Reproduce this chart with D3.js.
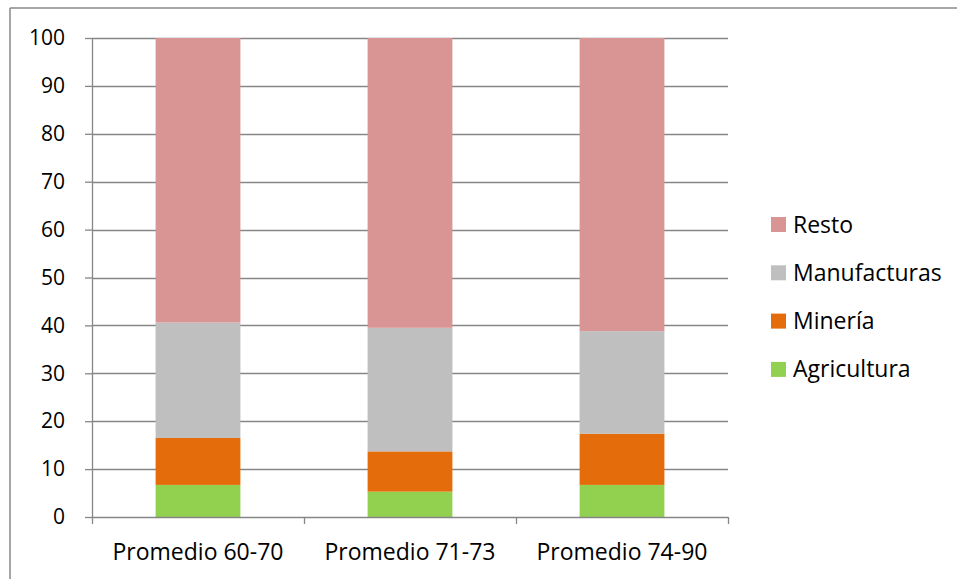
<!DOCTYPE html>
<html>
<head>
<meta charset="utf-8">
<script src="https://cdn.jsdelivr.net/npm/d3@7"></script>
<style>
  html, body { margin: 0; padding: 0; background: #fff; }
  svg { display: block; }
  text { font-family: "Open Sans", "Noto Sans", sans-serif; fill: #000; }
</style>
</head>
<body>
<svg id="chart" width="957" height="579"></svg>
<script>
// Periods shown on the x axis
const categories = ["Promedio 60-70", "Promedio 71-73", "Promedio 74-90"];
// Sector shares (%), stacked bottom to top
const agricultura  = [6.7, 5.3, 6.7];
const mineria      = [9.8, 8.4, 10.7];
const manufacturas = [24.1, 25.8, 21.4];
const resto        = [59.4, 60.5, 61.2];
const seriesNames  = ["Agricultura", "Minería", "Manufacturas", "Resto"];
const seriesColors = ["#92D050", "#E46C0A", "#BFBFBF", "#D99594"];
const yTicks = [0, 10, 20, 30, 40, 50, 60, 70, 80, 90, 100];

const rows = categories.map((c, i) => ({
  cat: c,
  "Agricultura": agricultura[i],
  "Minería": mineria[i],
  "Manufacturas": manufacturas[i],
  "Resto": resto[i]
}));

const svg = d3.select("#chart");
const plotLeft = 92, plotRight = 728, plotTop = 38, plotBottom = 517;

// Outer frame (top and left edges visible)
svg.append("line").attr("x1", 10).attr("x2", 957).attr("y1", 8).attr("y2", 8)
  .attr("stroke", "#898989").attr("stroke-width", 1.5);
svg.append("line").attr("x1", 10).attr("x2", 10).attr("y1", 8).attr("y2", 579)
  .attr("stroke", "#898989").attr("stroke-width", 1.5);

const x = d3.scaleBand().domain(categories).range([plotLeft, plotRight]).paddingInner(0.6).paddingOuter(0.3);
const xOuter = d3.scaleBand().domain(categories).range([plotLeft, plotRight]);
const y = d3.scaleLinear().domain([0, 100]).range([plotBottom, plotTop]);

// Gridlines
svg.append("g").selectAll("line").data(yTicks.filter(t => t > 0)).join("line")
  .attr("x1", plotLeft).attr("x2", plotRight)
  .attr("y1", d => Math.round(y(d)) + 0.5).attr("y2", d => Math.round(y(d)) + 0.5)
  .attr("stroke", "#868686").attr("stroke-width", 1.3);

// Stacked bars
const stack = d3.stack().keys(seriesNames)(rows);
svg.append("g").selectAll("g").data(stack).join("g")
  .attr("fill", (d, i) => seriesColors[i])
  .selectAll("rect").data(d => d).join("rect")
  .attr("x", d => x(d.data.cat))
  .attr("width", x.bandwidth())
  .attr("y", d => y(d[1]))
  .attr("height", d => y(d[0]) - y(d[1]));

// Y axis
const yAxis = svg.append("g").attr("transform", `translate(${plotLeft},0)`)
  .call(d3.axisLeft(y).tickValues(yTicks).tickSize(7).tickPadding(20));
yAxis.select(".domain").attr("stroke", "#868686").attr("stroke-width", 1.3)
  .attr("d", `M0.5,${plotTop}V${plotBottom}`);
yAxis.selectAll(".tick line").attr("stroke", "#868686").attr("stroke-width", 1.3);
yAxis.selectAll(".tick text").attr("font-size", 21).attr("font-family", "Open Sans").attr("fill", "#000");

// X axis with boundary tick marks
const xAxisG = svg.append("g").attr("transform", `translate(0,${plotBottom})`);
xAxisG.append("line").attr("x1", plotLeft).attr("x2", plotRight).attr("y1", 0.5).attr("y2", 0.5)
  .attr("stroke", "#868686").attr("stroke-width", 1.3);
const bounds = categories.map(c => xOuter(c)).concat([plotRight]);
xAxisG.selectAll("line.tk").data(bounds).join("line").attr("class", "tk")
  .attr("x1", d => d + 0.5).attr("x2", d => d + 0.5).attr("y1", 0).attr("y2", 7)
  .attr("stroke", "#868686").attr("stroke-width", 1.3);
xAxisG.selectAll("text").data(categories).join("text")
  .attr("x", d => xOuter(d) + xOuter.bandwidth() / 2)
  .attr("y", 43)
  .attr("text-anchor", "middle")
  .attr("font-size", 23)
  .text(d => d);

// Legend (top to bottom: Resto ... Agricultura)
const legendOrder = seriesNames.slice().reverse();
const lg = svg.append("g").selectAll("g").data(legendOrder).join("g")
  .attr("transform", (d, i) => `translate(771,${217 + i * 48.3})`);
lg.append("rect").attr("width", 15).attr("height", 15)
  .attr("fill", d => seriesColors[seriesNames.indexOf(d)]);
lg.append("text").attr("x", 22).attr("y", 15.5).attr("font-size", 23).text(d => d);
</script>
</body>
</html>
